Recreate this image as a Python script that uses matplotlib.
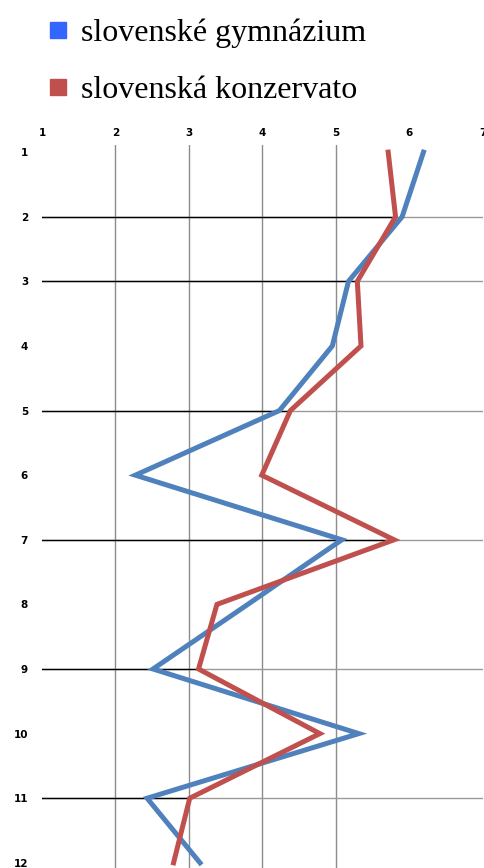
import matplotlib
matplotlib.use('Agg')
import matplotlib.pyplot as plt
from matplotlib.lines import Line2D

# rows 1..12, values on a 1..7 scale
rows = list(range(1, 13))
gymnazium = [6.19, 5.90, 5.17, 4.95, 4.23, 2.27, 5.08, 3.80, 2.51, 5.31, 2.43, 3.15]
konzervato = [5.71, 5.81, 5.29, 5.34, 4.38, 3.99, 5.79, 3.38, 3.13, 4.78, 3.01, 2.79]
series_names = ['slovenské gymnázium', 'slovenská konzervato']
x_ticks = [1, 2, 3, 4, 5, 6, 7]
v_grid = [2, 3, 4, 5]
h_grid = [2, 3, 5, 7, 9, 11]

blue = '#4f81bd'
red = '#c0504d'

fig = plt.figure(figsize=(4.85, 8.68), dpi=100)
ax = fig.add_axes([42 / 485, 0.0, 441 / 485, 1 - 145 / 868])
ax.set_xlim(1, 7)
ax.set_ylim(12.08, 0.89)

for x in v_grid:
    ax.axvline(x, color='#8c8c8c', lw=1, zorder=1)
for y in h_grid:
    ax.plot([1, 7], [y, y], color='#9a9a9a', lw=1, zorder=1)
    ax.plot([1, konzervato[y - 1]], [y, y], color='black', lw=1, zorder=1.5)

ax.plot(gymnazium, rows, color=blue, lw=3.6, zorder=3, solid_joinstyle='miter')
ax.plot(konzervato, rows, color=red, lw=3.6, zorder=4, solid_joinstyle='miter')

ax.xaxis.tick_top()
ax.set_xticks(x_ticks)
ax.set_yticks(rows)
ax.tick_params(length=0, labelsize=7.5)
ax.tick_params(axis='x', pad=5)
ax.tick_params(axis='y', pad=10)
for lab in ax.get_xticklabels() + ax.get_yticklabels():
    lab.set_fontweight('heavy')
for s in ax.spines.values():
    s.set_visible(False)

handles = [Line2D([], [], ls='none', marker='s', ms=11.5, color='#3366ff'),
           Line2D([], [], ls='none', marker='s', ms=11.5, color=red)]
fig.legend(handles, series_names, loc='upper left', bbox_to_anchor=(31 / 485, 1 - 3 / 868),
           frameon=False, prop={'family': 'Liberation Serif', 'size': 23},
           handlelength=0.7, handletextpad=0.35, labelspacing=0.85, borderpad=0)

fig.savefig('out.png', dpi=100)
